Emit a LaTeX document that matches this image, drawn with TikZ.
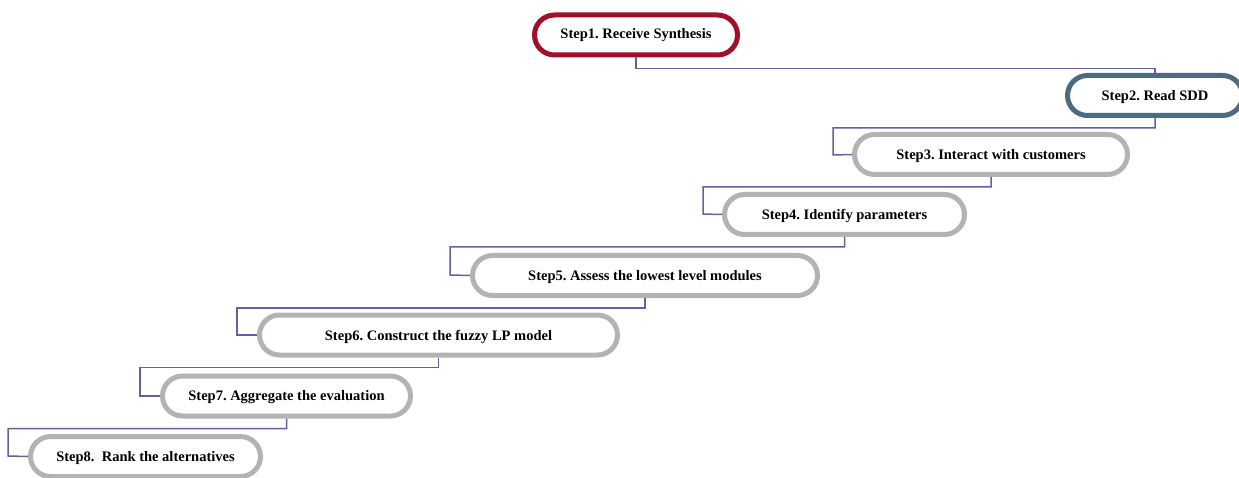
\documentclass[tikz,border=0pt]{standalone}
\usepackage{fontspec}
\setmainfont{Liberation Serif}
\usetikzlibrary{calc}
\definecolor{stepred}{HTML}{A0102A}
\definecolor{stepblue}{HTML}{4D6A7E}
\definecolor{stepgray}{HTML}{B3B3B3}
\definecolor{linkpurple}{HTML}{6B5E9E}
\newcommand{\lowered}[1]{\raisebox{-1.5pt}[\height][\depth]{#1}}
\tikzset{
  stepbox/.style={draw=stepgray, line width=5pt, rectangle, rounded corners=20pt,
    minimum height=40pt, inner sep=0pt, fill=white,
    font=\fontsize{14.5}{16}\selectfont\bfseries},
  link/.style={draw=linkpurple, line width=1.5pt}
}
\frenchspacing
\begin{document}
\begin{tikzpicture}[x=1pt,y=-1pt]
\useasboundingbox (0,0) rectangle (1239,478);
\clip (0,0) rectangle (1239,478);
% bend points of the connectors, left of each step
\coordinate (k2) at (833,155);
\coordinate (k3) at (703,214);
\coordinate (k4) at (450,275);
\coordinate (k5) at (237,335);
\coordinate (k6) at (140,396);
\coordinate (k7) at (8,456);
% steps
\node[stepbox, draw=stepred, minimum width=203pt] (s1) at (636,35) {Step1. Receive Synthesis};
\node[stepbox, draw=stepblue, minimum width=175pt] (s2) at (1155,95.5) {\lowered{Step2. Read SDD}};
\node[stepbox, minimum width=273pt] (s3) at (991,154.5) {\lowered{Step3. Interact with customers}};
\node[stepbox, minimum width=240pt] (s4) at (844.5,214.5) {\lowered{Step4. Identify parameters}};
\node[stepbox, minimum width=345pt] (s5) at (645,275.5) {\lowered{Step5. Assess the lowest level modules}};
\node[stepbox, minimum width=358pt] (s6) at (438.5,335) {\lowered{Step6. Construct the fuzzy LP model}};
\node[stepbox, minimum width=248pt] (s7) at (286.5,396) {\lowered{Step7. Aggregate the evaluation}};
\node[stepbox, minimum width=230pt] (s8) at (145.5,456.5) {\lowered{Step8.\ \ Rank the alternatives}};
% connectors
\draw[link] (s1.south) -- ++(0,11) -| (s2.north);
\draw[link] (s2.south) -- ++(0,10) -| (k2) -- (s3.west);
\draw[link] (s3.south) -- ++(0,10) -| (k3) -- (s4.west);
\draw[link] (s4.south) -- ++(0,10) -| (k4) -- (s5.west);
\draw[link] (s5.south) -- ++(0,10) -| (k5) -- (s6.west);
\draw[link] (s6.south) -- ++(0,10) -| (k6) -- (s7.west);
\draw[link] (s7.south) -- ++(0,10) -| (k7) -- (s8.west);
\end{tikzpicture}
\end{document}
